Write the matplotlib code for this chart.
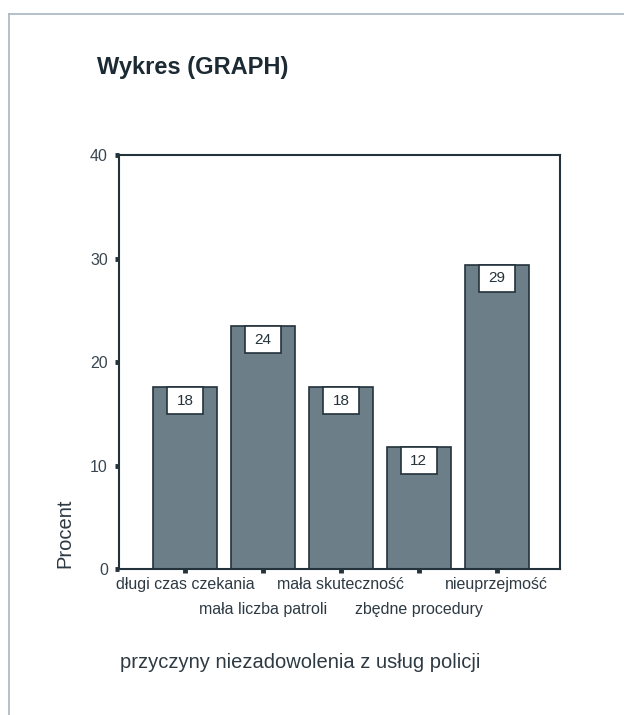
import matplotlib.pyplot as plt
from matplotlib.lines import Line2D
from matplotlib.patches import Rectangle

plt.rcParams['font.family'] = ['Liberation Sans', 'DejaVu Sans']

# przyczyny niezadowolenia - odsetek odpowiedzi
kategorie = ['długi czas czekania', 'mała liczba patroli', 'mała skuteczność',
             'zbędne procedury', 'nieuprzejmość']
procent = [17.6, 23.5, 17.6, 11.8, 29.4]
y_ticks = [0, 10, 20, 30, 40]

ciemny = '#24323b'
slupek = '#6c7e88'

fig = plt.figure(figsize=(6.24, 7.15), dpi=100)
ax = fig.add_axes([0.1907, 0.2042, 0.7067, 0.579])

x = list(range(len(kategorie)))
ax.bar(x, procent, width=0.82, color=slupek, edgecolor=ciemny, linewidth=1.2)

# etykiety wartosci w bialych ramkach przy wierzcholku slupka
for xi, v in zip(x, procent):
    ax.add_patch(Rectangle((xi - 0.235, v - 2.65), 0.47, 2.65, facecolor='white',
                           edgecolor=ciemny, linewidth=1.2, zorder=3))
    ax.text(xi, v - 1.33, f'{v:.0f}', ha='center', va='center', fontsize=11,
            color=ciemny, zorder=4)

ax.set_xlim(-0.846, 4.81)
ax.set_ylim(0, 40)
ax.set_yticks(y_ticks)
ax.set_xticks(x)
ax.set_xticklabels(kategorie, fontsize=11.5, color='#2e3a43')
ax.tick_params(axis='y', labelsize=11.5, labelcolor='#3a4650', pad=5)
ax.tick_params(length=3, width=3.5, color=ciemny, direction='out')
ax.tick_params(axis='x', pad=3)
for t in ax.xaxis.get_major_ticks()[1::2]:
    t.set_pad(21)

for s in ax.spines.values():
    s.set_color(ciemny)
    s.set_linewidth(1.5)

ax.set_ylabel('Procent', fontsize=14.5, color='#2e3a43')
ax.yaxis.set_label_coords(-0.102, 0.087)

fig.text(0.1554, 0.905, 'Wykres (GRAPH)', fontsize=17, fontweight='bold',
         color='#1b2a33', ha='left', va='center')
fig.text(0.192, 0.074, 'przyczyny niezadowolenia z usług policji', fontsize=14.5,
         color='#2e3a43', ha='left', va='center')

# ramka wokol calego obszaru
fig.add_artist(Line2D([0.0144, 1.0], [0.9804, 0.9804], color='#a8b6c1', linewidth=1.2))
fig.add_artist(Line2D([0.0144, 0.0144], [0.0, 0.9804], color='#a8b6c1', linewidth=1.2))

fig.savefig('out.png', dpi=100)
